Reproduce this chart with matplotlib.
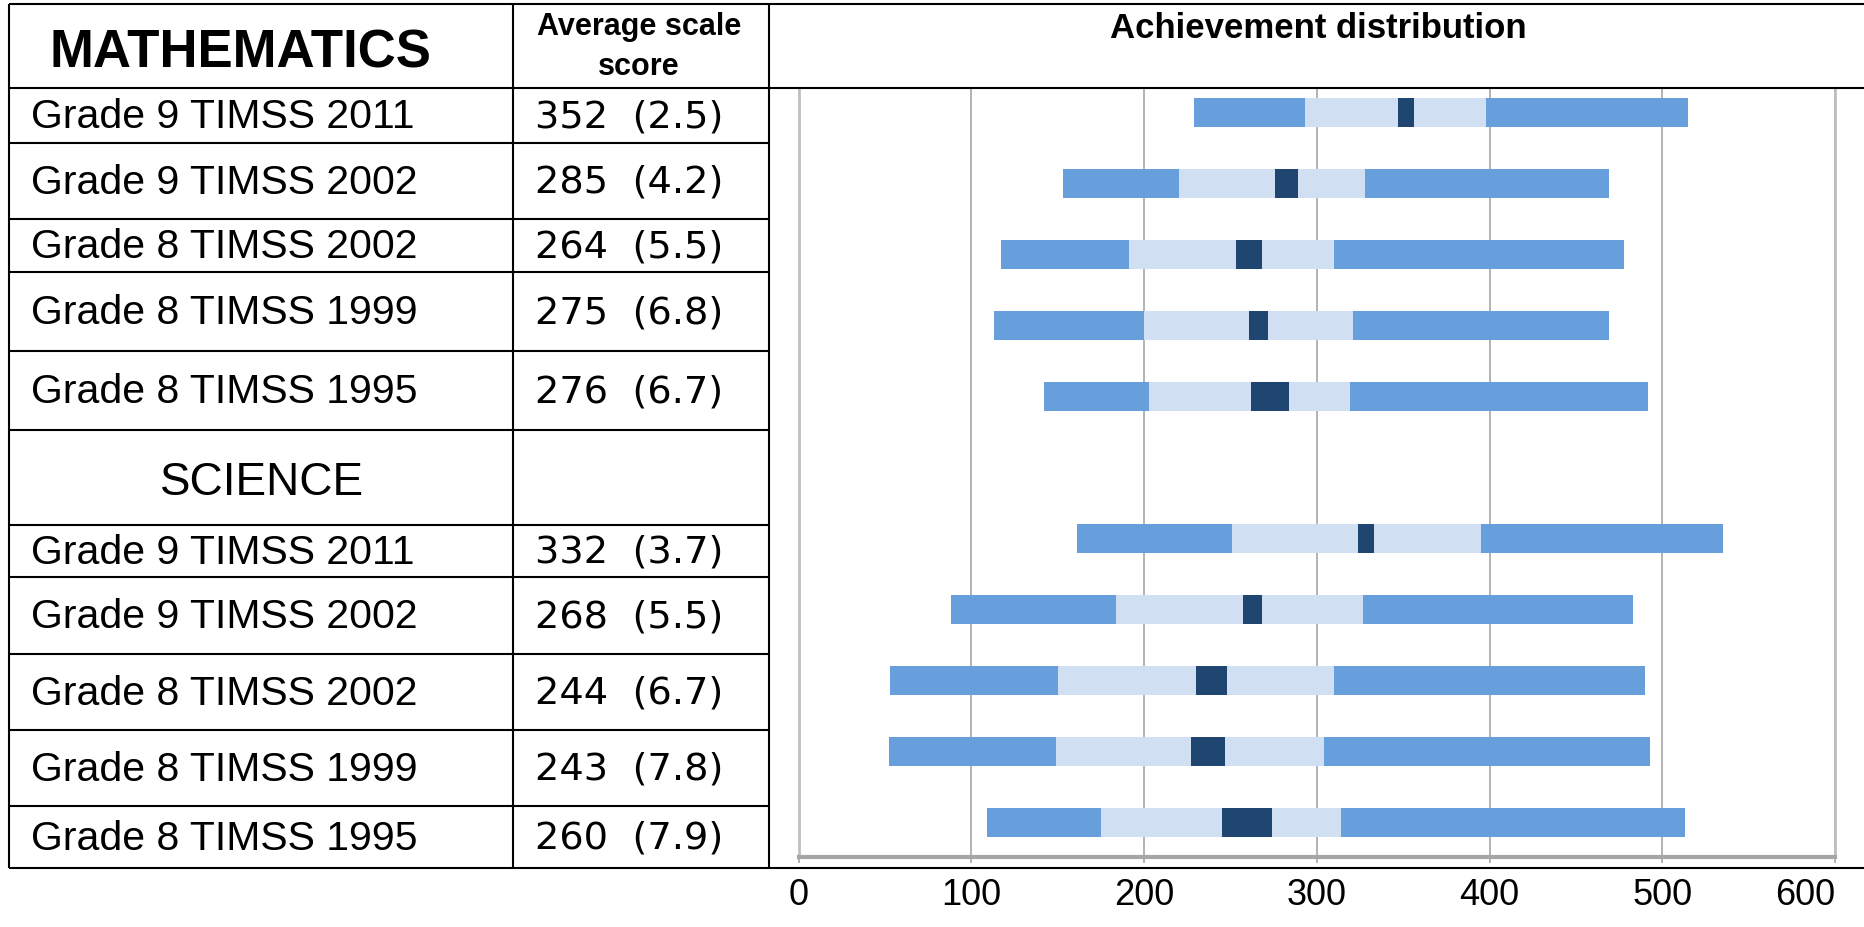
import matplotlib
matplotlib.use("Agg")
import matplotlib.pyplot as plt

# ---- data ----
row_labels = ["Grade 9 TIMSS 2011", "Grade 9 TIMSS 2002", "Grade 8 TIMSS 2002",
              "Grade 8 TIMSS 1999", "Grade 8 TIMSS 1995"]

math_mean = [352, 285, 264, 275, 276]
math_se = [2.5, 4.2, 5.5, 6.8, 6.7]
math_p5 = [229, 153, 117, 113, 142]
math_p25 = [293, 220, 191, 200, 203]
math_p75 = [398, 328, 310, 321, 319]
math_p95 = [515, 469, 478, 469, 492]
math_ci_lo = [347, 276, 253, 261, 262]
math_ci_hi = [356, 289, 268, 272, 284]

sci_mean = [332, 268, 244, 243, 260]
sci_se = [3.7, 5.5, 6.7, 7.8, 7.9]
sci_p5 = [161, 88, 53, 52, 109]
sci_p25 = [251, 184, 150, 149, 175]
sci_p75 = [395, 327, 310, 304, 314]
sci_p95 = [535, 483, 490, 493, 513]
sci_ci_lo = [324, 257, 230, 227, 245]
sci_ci_hi = [333, 268, 248, 247, 274]

x_ticks = [0, 100, 200, 300, 400, 500, 600]

# ---- colours ----
c_outer = "#669fdb"
c_inner = "#d0e0f2"
c_ci = "#1e4670"
c_grid = "#a6a6a6"

W, H = 1864, 928
fig = plt.figure(figsize=(W / 100, H / 100), dpi=100)

# chart area in pixel layout
ax_left, ax_right = 798.7, 1835.0
ax_top, ax_bot = 89.0, 858.0
first_c, slot = 113.5, 71.0

ax = fig.add_axes([ax_left / W, 1 - ax_bot / H,
                   (ax_right - ax_left) / W, (ax_bot - ax_top) / H])

bar_h = 29.0 / slot


def draw_block(ypos, p5, p25, p75, p95, lo, hi):
    for y, a, b, c, d, l, h in zip(ypos, p5, p25, p75, p95, lo, hi):
        ax.barh(y, b - a, left=a, height=bar_h, color=c_outer, zorder=3)
        ax.barh(y, c - b, left=b, height=bar_h, color=c_inner, zorder=3)
        ax.barh(y, d - c, left=c, height=bar_h, color=c_outer, zorder=3)
        ax.barh(y, h - l, left=l, height=bar_h, color=c_ci, zorder=4)


math_y = list(range(len(row_labels)))
sci_y = [len(row_labels) + 1 + i for i in range(len(row_labels))]
draw_block(math_y, math_p5, math_p25, math_p75, math_p95, math_ci_lo, math_ci_hi)
draw_block(sci_y, sci_p5, sci_p25, sci_p75, sci_p95, sci_ci_lo, sci_ci_hi)

ax.set_xlim(x_ticks[0], x_ticks[-1])
ax.set_ylim((ax_bot - first_c) / slot, (ax_top - first_c) / slot)
ax.set_yticks([])
ax.set_xticks(x_ticks)
ax.set_xticklabels([str(t) for t in x_ticks], family="Liberation Sans", fontsize=26)
ax.get_xticklabels()[-1].set_ha("right")
ax.tick_params(axis="x", length=4.5, width=1.2, color=c_grid, pad=10)
ax.xaxis.grid(True, color=c_grid, lw=1.2, zorder=0)
ax.set_axisbelow(True)
ax.spines["top"].set_visible(False)
ax.spines["left"].set_color("#bfbfbf")
ax.spines["left"].set_linewidth(2)
ax.spines["right"].set_color("#bfbfbf")
ax.spines["right"].set_linewidth(2)
ax.spines["bottom"].set_color(c_grid)
ax.spines["bottom"].set_linewidth(3)

# ---- table overlay in pixel coordinates ----
ov = fig.add_axes([0, 0, 1, 1], zorder=5)
ov.set_xlim(0, W)
ov.set_ylim(H, 0)
ov.axis("off")
ov.patch.set_alpha(0)

lk = dict(color="black", lw=1.5, solid_capstyle="butt")
x_l, x_c1, x_c2 = 9, 513, 769
y_top, y_head, y_bottom = 5, 89, 869
for y in (y_top, y_head, y_bottom):
    ov.plot([x_l, W], [y, y], **lk)
for x in (x_l, x_c1, x_c2):
    ov.plot([x, x], [y_top, y_bottom], **lk)
row_edges = [89, 144, 220, 273, 352, 431, 526, 578, 655, 731, 807, 869]
for y in row_edges[1:-1]:
    ov.plot([x_l, x_c2], [y, y], **lk)

ov.text(240, 68, "MATHEMATICS", family="Liberation Sans", weight="bold",
        fontsize=38, ha="center", va="baseline")
ov.text(639, 35, "Average scale", family="Liberation Sans", weight="bold",
        fontsize=22, ha="center", va="baseline")
ov.text(639, 75, "score", family="Liberation Sans", weight="bold",
        fontsize=22, ha="center", va="baseline")
ov.text(1318, 38, "Achievement distribution", family="Liberation Sans",
        weight="bold", fontsize=25, ha="center", va="baseline")
ov.text(262, 495, "SCIENCE", family="Liberation Sans", fontsize=33,
        ha="center", va="baseline")

math_rows = list(zip(row_edges[0:5], row_edges[1:6]))
sci_rows = list(zip(row_edges[6:11], row_edges[7:12]))
for rows, means, ses in ((math_rows, math_mean, math_se),
                         (sci_rows, sci_mean, sci_se)):
    for (a, b), lab, m, s in zip(rows, row_labels, means, ses):
        c = (a + b) / 2 - 3
        ov.text(31, c + 14.7, lab, family="Liberation Sans", fontsize=29.5,
                ha="left", va="baseline")
        ov.text(535, c + 14, f"{m}  ({s})", family="DejaVu Sans",
                fontsize=27.6, ha="left", va="baseline")

fig.savefig("out.png", dpi=100, facecolor="white")
